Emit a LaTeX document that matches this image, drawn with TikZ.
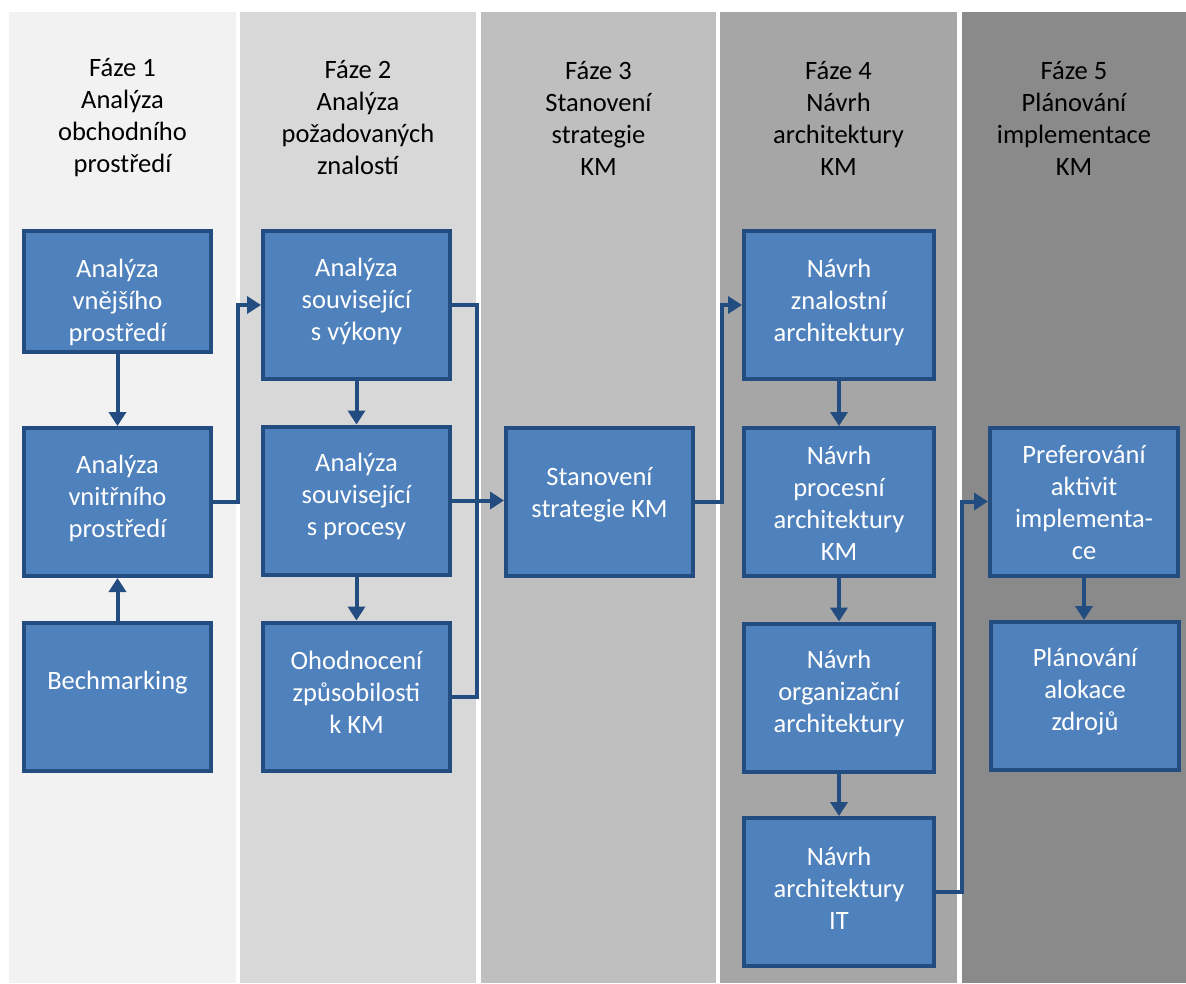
\documentclass[tikz,border=0pt]{standalone}
\usepackage{fontspec}
\setmainfont{Carlito}
\usetikzlibrary{arrows.meta}
\definecolor{phaseone}{HTML}{F2F2F2}
\definecolor{phasetwo}{HTML}{D8D8D8}
\definecolor{phasethree}{HTML}{BFBFBF}
\definecolor{phasefour}{HTML}{A6A6A6}
\definecolor{phasefive}{HTML}{8A8A8A}
\definecolor{boxfill}{HTML}{4F81BD}
\definecolor{boxline}{HTML}{234C80}
\begin{document}
\begin{tikzpicture}[x=1pt,y=-1pt,
  textfont/.style={font=\fontsize{26.5}{32}\selectfont, align=center, inner sep=0pt},
  phasehead/.style={textfont, text=black},
  stepbox/.style={draw=boxline, fill=boxfill, line width=4pt, minimum width=187pt, minimum height=148pt, inner sep=0pt},
  steptext/.style={textfont, text=white},
  conn/.style={draw=boxline, line width=4pt},
  arr/.style={conn, -{Triangle[length=14pt,width=17pt]}}]
\useasboundingbox (0,0) rectangle (1186,983);
\fill[white] (0,0) rectangle (1186,983);

% phase columns
\fill[phaseone]   (9,12)   rectangle (236,983);
\fill[phasetwo]   (240,12) rectangle (476,983);
\fill[phasethree] (481,12) rectangle (716,983);
\fill[phasefour]  (720,12) rectangle (957,983);
\fill[phasefive]  (962,12) rectangle (1186,983);

% phase headings
\node[phasehead] (h1) at (122.5,118) {Fáze 1\\Analýza\\obchodního\\prostředí};
\node[phasehead] (h2) at (358,118) {Fáze 2\\Analýza\\požadovaných\\znalostí};
\node[phasehead] (h3) at (598.5,118) {Fáze 3\\Stanovení\\strategie\\KM};
\node[phasehead] (h4) at (838.5,118) {Fáze 4\\Návrh\\architektury\\KM};
\node[phasehead] (h5) at (1074,118) {Fáze 5\\Plánování\\implementace\\KM};

% process boxes
\node[stepbox, minimum height=121pt] (a1) at (117.5,291.5) {};
\node[stepbox] (a2) at (117.5,502) {};
\node[stepbox] (a3) at (117.5,696.5) {};
\node[stepbox] (b1) at (356.5,305) {};
\node[stepbox] (b2) at (356.5,500.5) {};
\node[stepbox] (b3) at (356.5,696.5) {};
\node[stepbox] (c1) at (599.5,502) {};
\node[stepbox, minimum width=190pt] (d1) at (839,305) {};
\node[stepbox, minimum width=190pt] (d2) at (839,502) {};
\node[stepbox, minimum width=190pt] (d3) at (839,697.5) {};
\node[stepbox, minimum width=190pt] (d4) at (839,892) {};
\node[stepbox, minimum width=188pt] (e1) at (1084,501.5) {};
\node[stepbox, minimum width=188pt] (e2) at (1085,696) {};

% box labels
\node[steptext] (a1t) at (117.5,302) {Analýza\\vnějšího\\prostředí};
\node[steptext] (a2t) at (117.5,498) {Analýza\\vnitřního\\prostředí};
\node[steptext] (a3t) at (117.5,683) {Bechmarking};
\node[steptext] (b1t) at (356.5,301) {Analýza\\související\\s výkony};
\node[steptext] (b2t) at (356.5,496) {Analýza\\související\\s procesy};
\node[steptext] (b3t) at (356.5,692) {Ohodnocení\\způsobilosti\\k KM};
\node[steptext] (c1t) at (599.5,495) {Stanovení\\strategie KM};
\node[steptext] (d1t) at (839,302) {Návrh\\znalostní\\architektury};
\node[steptext] (d2t) at (839,503) {Návrh\\procesní\\architektury\\KM};
\node[steptext] (d3t) at (839,693) {Návrh\\organizační\\architektury};
\node[steptext] (d4t) at (839,888) {Návrh\\architektury\\IT};
\node[steptext] (e1t) at (1084,502) {Preferování\\aktivit\\implementa-\\ce};
\node[steptext] (e2t) at (1085,692) {Plánování\\alokace\\zdrojů};

% junction columns of the elbow connectors
\coordinate (j1) at (238,0);
\coordinate (j2) at (477,0);
\coordinate (j3) at (722,0);
\coordinate (j4) at (962,0);

% connectors
\draw[arr] (a1.south) -- (a2.north);
\draw[arr] (a3.north) -- (a2.south);
\draw[arr] (a2.east) -- (a2.east -| j1) |- (b1.west);
\draw[arr] (b1.south) -- (b2.north);
\draw[arr] (b2.south) -- (b3.north);
\draw[conn] (b1.east) -- (b1.east -| j2) -- (b3.east -| j2) -- (b3.east);
\draw[arr] (b2.east) -- (b2.east -| c1.west);
\draw[arr] (c1.east) -- (c1.east -| j3) |- (d1.west);
\draw[arr] (d1.south) -- (d2.north);
\draw[arr] (d2.south) -- (d3.north);
\draw[arr] (d3.south) -- (d4.north);
\draw[arr] (d4.east) -- (d4.east -| j4) |- (e1.west);
\draw[arr] (e1.south) -- (e1.south |- e2.north);
\end{tikzpicture}
\end{document}
